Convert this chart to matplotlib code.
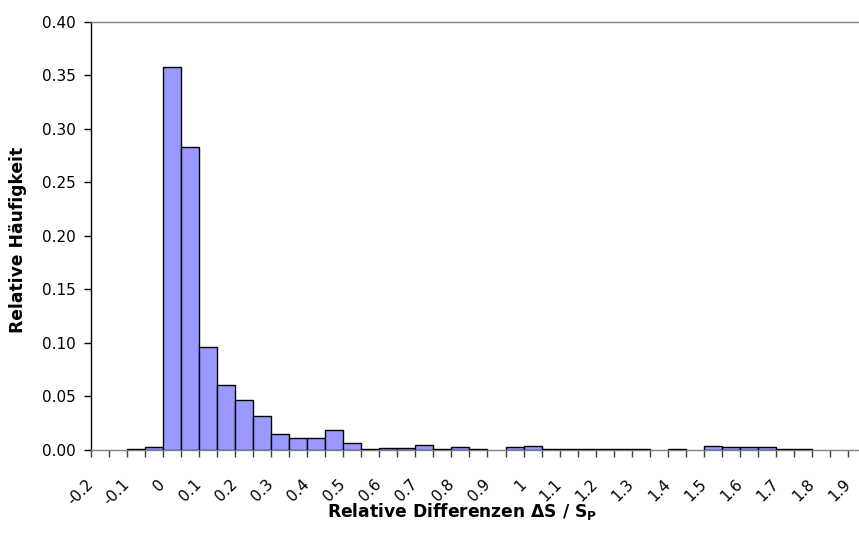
import matplotlib
matplotlib.use("Agg")
import matplotlib.pyplot as plt
import numpy as np

plt.rcParams['font.family'] = ['DejaVu Sans']
plt.rcParams['mathtext.default'] = 'regular'

# bin left edges (width 0.05)
bin_left = [-0.20, -0.15, -0.10, -0.05, 0.00, 0.05, 0.10, 0.15, 0.20, 0.25,
            0.30, 0.35, 0.40, 0.45, 0.50, 0.55, 0.60, 0.65, 0.70, 0.75,
            0.80, 0.85, 0.90, 0.95, 1.00, 1.05, 1.10, 1.15, 1.20, 1.25,
            1.30, 1.35, 1.40, 1.45, 1.50, 1.55, 1.60, 1.65, 1.70, 1.75,
            1.80, 1.85]
freq = [0.0, 0.0, 0.001, 0.003, 0.358, 0.283, 0.096, 0.061, 0.047, 0.032,
        0.0146, 0.0115, 0.0115, 0.0184, 0.0062, 0.001, 0.002, 0.002, 0.005, 0.001,
        0.0025, 0.001, 0.0, 0.0025, 0.004, 0.001, 0.001, 0.001, 0.001, 0.001,
        0.001, 0.0, 0.001, 0.0, 0.004, 0.0025, 0.0025, 0.0025, 0.001, 0.001,
        0.0, 0.0]
bin_width = 0.05
x_tick_labels = ['-0.2', '-0.1', '0', '0.1', '0.2', '0.3', '0.4', '0.5', '0.6', '0.7',
                 '0.8', '0.9', '1', '1.1', '1.2', '1.3', '1.4', '1.5', '1.6', '1.7',
                 '1.8', '1.9']
x_tick_values = [-0.2, -0.1, 0.0, 0.1, 0.2, 0.3, 0.4, 0.5, 0.6, 0.7,
                 0.8, 0.9, 1.0, 1.1, 1.2, 1.3, 1.4, 1.5, 1.6, 1.7, 1.8, 1.9]
y_ticks = [0.0, 0.05, 0.10, 0.15, 0.20, 0.25, 0.30, 0.35, 0.40]

fig = plt.figure(figsize=(8.59, 5.41), dpi=100)
ax = fig.add_axes([90.7/859, 91/541, (859-90.7)/859, (519.3-91)/541])

vis_left = [l for l, f in zip(bin_left, freq) if f > 0]
vis_f = [f for f in freq if f > 0]
ax.bar(vis_left, vis_f, width=bin_width, align='edge', color='#9999FF',
       edgecolor='black', linewidth=1.0, zorder=3)

ax.set_xlim(-0.2, 1.93)
ax.set_ylim(0, 0.40)

minor_ticks = bin_left + [1.9]
ax.set_xticks(minor_ticks, minor=True)
ax.set_xticks(x_tick_values)
ax.set_xticklabels(x_tick_labels, rotation=45, ha='right', va='center',
                   rotation_mode='anchor', fontsize=11)
ax.tick_params(axis='x', which='both', direction='out', length=5, width=1,
               color='#404040', pad=18)

ax.set_yticks(y_ticks)
ax.set_yticklabels([f'{v:.2f}' for v in y_ticks], fontsize=11)
ax.tick_params(axis='y', direction='out', length=5, width=1, color='black', pad=6)

ax.spines['top'].set_color('#808080')
ax.spines['top'].set_linewidth(1.0)
ax.spines['right'].set_visible(False)
ax.spines['bottom'].set_color('#808080')
ax.spines['bottom'].set_linewidth(1.0)
ax.spines['left'].set_color('black')
ax.spines['left'].set_linewidth(1.0)

fig.text(18/859, 1 - 240/541, 'Relative Häufigkeit', fontsize=12.3,
         fontweight='bold', rotation=90, ha='center', va='center')
fig.text(462/859, 1 - 511/541, 'Relative Differenzen ΔS / S$_{P}$', fontsize=12.3,
         fontweight='bold', ha='center', va='center')

fig.savefig('out.png', dpi=100)
